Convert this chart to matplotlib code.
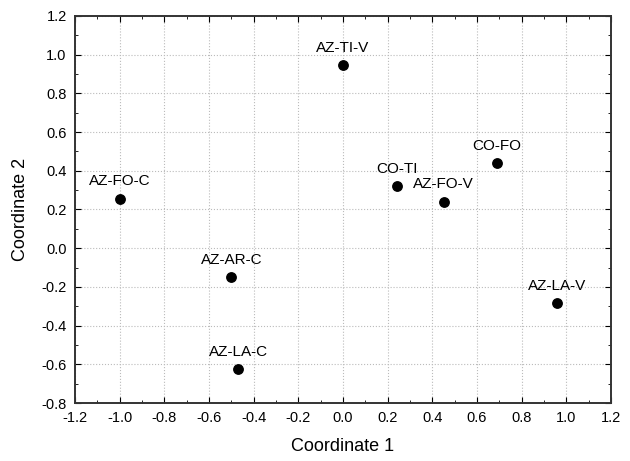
import matplotlib
matplotlib.use("Agg")
import matplotlib.pyplot as plt
from matplotlib.ticker import MultipleLocator, FormatStrFormatter

plt.rcParams['font.family'] = ['Liberation Sans', 'DejaVu Sans']
plt.rcParams['axes.unicode_minus'] = False

# data
labels = ['AZ-FO-C', 'AZ-TI-V', 'CO-TI', 'AZ-FO-V', 'CO-FO',
          'AZ-LA-V', 'AZ-AR-C', 'AZ-LA-C']
coord1 = [-1.00, 0.00, 0.24, 0.45, 0.69, 0.96, -0.50, -0.47]
coord2 = [0.255, 0.945, 0.32, 0.24, 0.44, -0.285, -0.15, -0.625]

fig = plt.figure(figsize=(6.3, 4.61), dpi=100)
ax = fig.add_axes([75/630, 1-403/461, (611-75)/630, (403-16)/461])

ax.scatter(coord1, coord2, s=46, color='black', zorder=3)
for x, y, t in zip(coord1, coord2, labels):
    ax.annotate(t, (x, y), xytext=(0, 7.5), textcoords='offset points',
                ha='center', va='bottom', fontsize=11, color='black')

ax.set_xlim(-1.2, 1.2)
ax.set_ylim(-0.8, 1.2)
ax.xaxis.set_major_locator(MultipleLocator(0.2))
ax.yaxis.set_major_locator(MultipleLocator(0.2))
ax.xaxis.set_minor_locator(MultipleLocator(0.1))
ax.yaxis.set_minor_locator(MultipleLocator(0.1))
ax.xaxis.set_major_formatter(FormatStrFormatter('%.1f'))
ax.yaxis.set_major_formatter(FormatStrFormatter('%.1f'))
ax.tick_params(which='both', direction='in', top=True, right=True,
               labelsize=10.5, pad=6)
ax.tick_params(which='major', length=4)
ax.tick_params(which='minor', length=2.5)
ax.grid(True, which='major', linestyle=':', color='#bbbbbb', linewidth=0.8)
for s in ax.spines.values():
    s.set_linewidth(1.4)
    s.set_color('#333333')

ax.set_xlabel('Coordinate 1', fontsize=13, labelpad=9)
ax.set_ylabel('Coordinate 2', fontsize=13, labelpad=9)

fig.savefig('out.png', dpi=100)
